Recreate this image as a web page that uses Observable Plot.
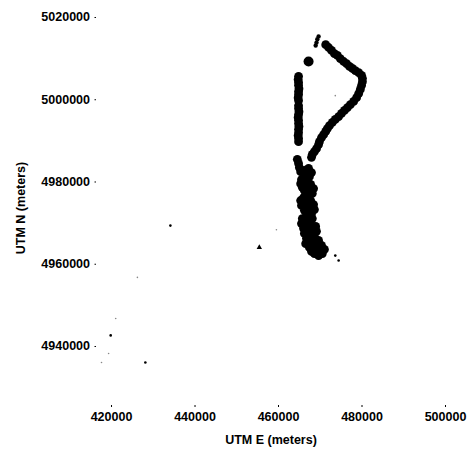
<!DOCTYPE html>
<html>
<head>
<meta charset="utf-8">
<script src="https://cdn.jsdelivr.net/npm/d3@7"></script>
<script src="https://cdn.jsdelivr.net/npm/@observablehq/plot@0.6"></script>
<style>
  html, body { margin: 0; padding: 0; background: #fff; }
  #chart { width: 470px; height: 452px; }
</style>
</head>
<body>
<div id="chart"></div>
<script>
// GPS fixes along the movement track, UTM easting / northing (meters)
const startE = [469600, 469300, 469100, 468900];
const startN = [5015400, 5014700, 5013900, 5013200];

const armE = [471300, 472000, 472700, 473400, 474100, 474800, 475600, 476300, 477000, 477700,
  478400, 479200, 479900, 480100, 480100, 479900, 479600, 479200, 478700, 478000,
  477200, 476500, 475800, 475100, 474400, 473600, 472900, 472200, 471700, 471300,
  470800, 470300, 469800, 469600, 469100, 468600, 468100, 467900];
const armN = [5013400, 5012700, 5012000, 5011200, 5010800, 5010000, 5009300, 5008800, 5008100, 5007600,
  5007100, 5006600, 5005900, 5005200, 5004400, 5003500, 5002500, 5001500, 5000500, 4999600,
  4998800, 4998100, 4997400, 4996700, 4995900, 4995200, 4994500, 4993700, 4993000, 4992300,
  4991500, 4990800, 4989800, 4989100, 4988100, 4987400, 4986700, 4986000];

const loneE = [467200];
const loneN = [5009300];

const columnE = [464800, 464700, 464800, 464800, 464900, 464800, 464800, 464700, 464800, 464800, 464800,
  464900, 464800, 464700, 464800, 464800, 464900, 464800, 464800, 464700, 464800, 464800];
const columnN = [5005700, 5004900, 5004200, 5003500, 5002700, 5002000, 5001300, 5000500, 4999800, 4998600, 4997900,
  4997100, 4996400, 4995700, 4995000, 4994200, 4993500, 4992800, 4992000, 4991300, 4990600, 4989800];

const clusterE = [464500, 464800, 465000, 465300, 466200, 467200, 467900, 467400, 466500, 465500,
  465300, 465700, 466700, 467700, 468400, 468100, 467200, 466000, 465300, 465500,
  466500, 467400, 468400, 468600, 467900, 466700, 465700, 465500, 466000, 466900,
  467900, 468900, 469100, 468600, 467700, 466700, 466500, 467400, 468400, 469300,
  470300, 471000, 470500, 469600, 468600, 467900, 466500, 467700, 469600, 468100, 466700,
  466200, 466900, 466200, 467400, 466700, 467700, 466200, 467200, 466200, 468100,
  467200, 466200, 467400, 468400, 467700, 468900, 469600, 468600, 470100];
const clusterN = [4985500, 4984500, 4983500, 4982500, 4982800, 4983300, 4982300, 4981300, 4980800, 4980600,
  4979600, 4978700, 4979100, 4979400, 4978400, 4977200, 4976700, 4976200, 4975500, 4974300,
  4973800, 4974300, 4974500, 4973300, 4972300, 4971800, 4971100, 4969900, 4968700, 4968200,
  4968700, 4969200, 4968000, 4966700, 4966300, 4966300, 4965000, 4964100, 4963600, 4964100,
  4964600, 4963600, 4962600, 4962100, 4962600, 4963100, 4970100, 4970600, 4965800, 4965300, 4977900,
  4981600, 4980400, 4977900, 4977900, 4975500, 4975500, 4973100, 4973100, 4970600, 4971100,
  4969400, 4967500, 4967500, 4967700, 4965000, 4965000, 4963300, 4964300, 4963300];

// isolated stray fixes
const strayE = [434100, 419800, 428100, 473600, 474400];
const strayN = [4969400, 4942700, 4936100, 4962100, 4960900];
const outlierE = [455400];
const outlierN = [4964100];
const faintE = [426200, 421000, 419300, 417600, 473600, 459500];
const faintN = [4956800, 4946800, 4938300, 4936100, 5001000, 4968400];

const xTicks = [420000, 440000, 460000, 480000, 500000];
const yTicks = [4940000, 4960000, 4980000, 5000000, 5020000];

const pts = (E, N) => E.map((e, i) => ({e, n: N[i]}));
const fixes = [...pts(armE, armN), ...pts(columnE, columnN), ...pts(clusterE, clusterN)];

const chart = Plot.plot({
  width: 470,
  height: 452,
  marginLeft: 96,
  marginRight: 25,
  marginTop: 10,
  marginBottom: 47,
  style: {fontFamily: "'Liberation Sans', Arial, sans-serif", fontSize: "13.5px", fontWeight: "bold", color: "#000", background: "#fff"},
  x: {domain: [416400, 500000]},
  y: {domain: [4925650, 5021700]},
  marks: [
    Plot.axisX({ticks: xTicks, tickFormat: d => String(d), tickSize: 2, tickPadding: 5,
      label: "UTM E (meters)", labelArrow: "none", labelAnchor: "center", labelOffset: 38,
      fontSize: 12.5, stroke: "#000"}),
    Plot.axisY({ticks: yTicks, tickFormat: d => String(d), tickSize: 1.5, tickPadding: 5,
      label: "UTM N (meters)", labelArrow: "none", labelAnchor: "center", labelOffset: 80,
      fontSize: 12.5, stroke: "#000"}),
    Plot.dot(pts(faintE, faintN), {x: "e", y: "n", r: 0.8, fill: "#888", stroke: null}),
    Plot.dot(pts(strayE, strayN), {x: "e", y: "n", r: 1.3, fill: "#000", stroke: null}),
    Plot.dot(pts(outlierE, outlierN), {x: "e", y: "n", r: 2, symbol: "triangle", fill: "#000", stroke: null}),
    Plot.dot(pts(startE, startN), {x: "e", y: "n", r: 2.2, fill: "#000", stroke: null}),
    Plot.dot(fixes, {x: "e", y: "n", r: 4.4, fill: "#000", stroke: null}),
    Plot.dot(pts(loneE, loneN), {x: "e", y: "n", r: 5, fill: "#000", stroke: null})
  ]
});
document.getElementById("chart").appendChild(chart);
</script>
</body>
</html>
